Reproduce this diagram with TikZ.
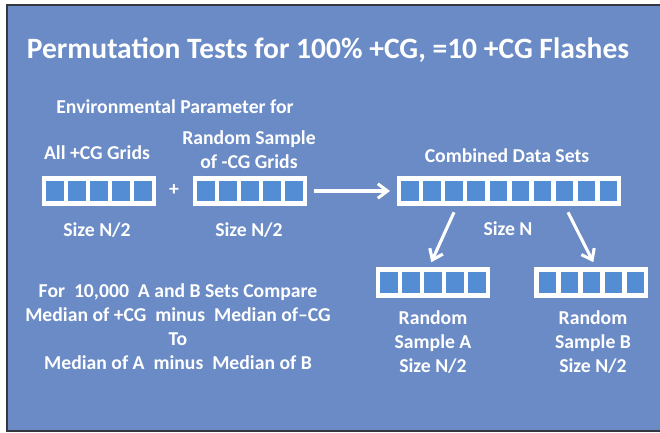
\documentclass[tikz,border=0pt]{standalone}
\usepackage{fontspec}
\setmainfont{Carlito}
\usetikzlibrary{arrows.meta,positioning,calc}
\definecolor{panelblue}{RGB}{106,139,198}
\definecolor{cellblue} {RGB}{84,141,212}
\definecolor{paneledge}{RGB}{52,55,64}

%% one framed row of n cells: name, left x, centre y, n
\newcommand{\datarow}[4]{%
  \node[frame,minimum width={#4*0.55cm+0.1cm},anchor=west] (#1) at (#2,#3) {};
  \foreach \i in {1,...,#4}{
    \node[cell] (#1-\i) at ({#2-9+22*\i},#3) {};
  }
}

\begin{document}
\begin{tikzpicture}[
  x=0.025cm,y=-0.025cm,
  frame/.style={fill=white,minimum height=0.75cm,inner sep=0pt},
  cell/.style={fill=cellblue,minimum width=0.425cm,minimum height=0.5cm,
               inner sep=0pt},
  lbl/.style={text=white,font=\fontsize{14}{17}\selectfont\bfseries,
              align=center,inner sep=0pt},
  hdr/.style={text=white,font=\fontsize{21}{25}\selectfont\bfseries,
              inner sep=0pt},
  arr/.style={draw=white,line width=2.2pt,
              -{Straight Barb[length=0.24cm,width=0.36cm,line width=2.2pt]}},
]
\useasboundingbox (0,0) rectangle (660,433);

%% Panel
\fill[panelblue] (7,5) rectangle (664,431);
\draw[paneledge,line width=1.2pt] (664,5) -- (7,5) -- (7,431) -- (664,431);

%% Title
\node[hdr] (title) at (328,50) {Permutation Tests for 100\% +CG, =10 +CG Flashes};

%% Input rows
\node[lbl] (env) at (175,107) {Environmental Parameter for};
\node[lbl] (allcg) at (97,153) {All +CG Grids};
\node[lbl] (rand) at (249,150) {Random Sample\\of -CG Grids};
\datarow{plusrow}{42}{191}{5}
\datarow{minusrow}{193}{191}{5}
\node[lbl] (plus) at (174,190) {+};
\node[lbl] (size1) at (97,230) {Size N/2};
\node[lbl] (size2) at (249,230) {Size N/2};

%% Combined set
\node[lbl] (comblbl) at (507,156) {Combined Data Sets};
\datarow{comb}{397}{191}{10}
\node[lbl] (sizeN) at (508,229) {Size N};

%% Resampled sets
\datarow{arow}{376}{282.5}{5}
\datarow{brow}{534}{282.5}{5}
\node[lbl] (alabel) at (433,342) {Random\\Sample A\\Size N/2};
\node[lbl] (blabel) at (593,342) {Random\\Sample B\\Size N/2};

%% Comparison text
\node[lbl] (cmp) at (178,327)
  {For\ \ 10,000\ \ A and B Sets Compare\\
   Median of +CG\ \ minus\ \ Median of--CG\\
   To\\
   Median of A\ \ minus\ \ Median of B};

%% Arrows
\draw[arr,shorten <=0.15cm,shorten >=0.175cm] (minusrow.east) -- (comb.west);
\draw[arr] ([yshift=-0.275cm]comb-3.south) -- ([xshift=-0.05cm,yshift=0.125cm]arow.north);
\draw[arr] ([xshift=0.1cm,yshift=-0.275cm]comb-8.south) -- ([xshift=0.05cm,yshift=0.125cm]brow.north);

\end{tikzpicture}
\end{document}
